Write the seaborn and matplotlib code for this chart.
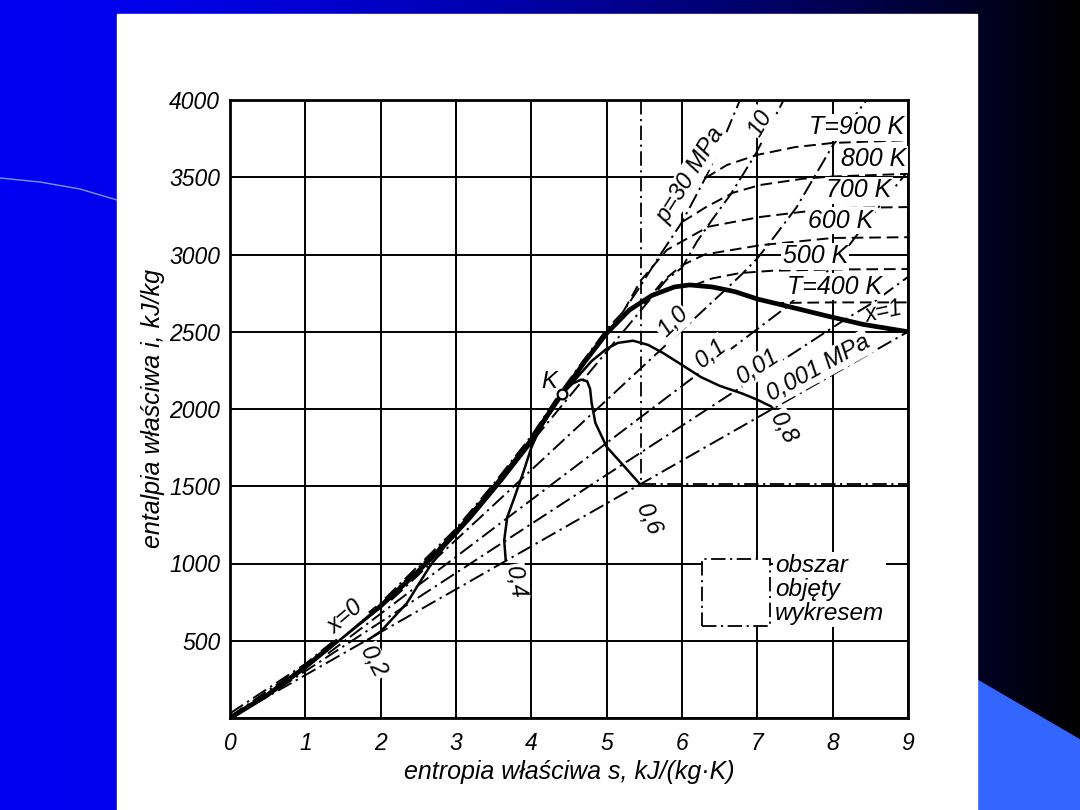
import numpy as np
import matplotlib
matplotlib.use('Agg')
import matplotlib.pyplot as plt
import seaborn as sns
from matplotlib.patches import Rectangle, Polygon

# wykres i-s (Molliera) dla wody
sns.set_style('white')
plt.rcParams['font.family'] = ['Liberation Sans', 'DejaVu Sans']
plt.rcParams['font.style'] = 'italic'
plt.rcParams['text.color'] = 'black'
plt.rcParams['axes.labelcolor'] = 'black'
plt.rcParams['xtick.color'] = 'black'
plt.rcParams['ytick.color'] = 'black'

# ==================== dane ====================
s_ticks = list(range(0, 10))
i_ticks = list(range(0, 4001, 500))

# linie nasycenia x=0 i x=1
s_x0 = [0, 0.5, 1.0, 1.5, 2.0, 2.5, 3.0, 3.5, 4.0, 4.2, 4.41]
i_x0 = [0, 150, 330, 530, 725, 950, 1200, 1490, 1800, 1950, 2100]
s_x1 = [4.41, 4.7, 5.0, 5.3, 5.6, 5.9, 6.1, 6.4, 6.7, 7.0, 7.4, 7.9, 8.4, 9.0]
i_x1 = [2100, 2300, 2490, 2640, 2735, 2790, 2803, 2790, 2760, 2712, 2665, 2605, 2548, 2500]
K_point = (4.41, 2100)

# linie stałego stopnia suchości
s_q02 = [1.83, 2.0, 2.35, 2.65, 2.85, 3.2, 3.6, 4.0, 4.41]
i_q02 = [505, 560, 745, 980, 1110, 1295, 1530, 1780, 2100]
s_q04 = [3.66, 3.64, 3.68, 3.77, 3.9, 4.0, 4.12, 4.3, 4.41]
i_q04 = [1020, 1150, 1300, 1420, 1600, 1750, 1880, 2010, 2100]
s_q06 = [4.41, 4.55, 4.66, 4.74, 4.78, 4.80, 4.85, 5.0, 5.24, 5.44]
i_q06 = [2100, 2165, 2190, 2180, 2130, 2040, 1910, 1755, 1625, 1515]
s_q08 = [4.41, 4.6, 4.8, 5.0, 5.15, 5.35, 5.55, 5.75, 6.0, 6.25, 6.5, 6.8, 7.0, 7.21]
i_q08 = [2100, 2200, 2310, 2390, 2428, 2442, 2415, 2362, 2285, 2207, 2150, 2100, 2060, 2010]

# izobary [MPa]
s_p0001 = [0.0, 9.0]
i_p0001 = [0, 2500]
s_p001 = [0.65, 8.15, 8.54, 9.0]
i_p001 = [192, 2575, 2690, 2855]
s_p01 = [1.30, 7.40, 7.6, 8.0, 8.5, 9.0]
i_p01 = [417, 2665, 2760, 2920, 3240, 3540]
s_p1 = [2.14, 6.59, 6.8, 7.0, 7.21, 7.52, 8.0, 8.45]
i_p1 = [763, 2778, 2875, 2975, 3105, 3305, 3705, 4000]
s_p10 = [0, 1.0, 2.0, 3.0, 3.36, 5.61, 5.8, 6.0, 6.2, 6.4, 6.64, 6.97, 7.35]
i_p10 = [10, 340, 735, 1210, 1408, 2730, 2840, 2915, 3085, 3225, 3385, 3644, 4000]
s_p30 = [0, 1.0, 2.0, 3.0, 3.5, 4.0, 4.41, 4.7, 5.0, 5.22, 5.44, 5.7, 6.0, 6.31, 6.55, 6.77]
i_p30 = [30, 350, 745, 1225, 1515, 1825, 2125, 2320, 2515, 2630, 2790, 2990, 3210, 3495, 3745, 4000]

# izotermy [K]
s_T400 = [7.2, 7.6, 8.0, 9.0]
i_T400 = [2685, 2688, 2690, 2690]
s_T500 = [6.15, 6.4, 6.77, 7.2, 8.0, 9.0]
i_T500 = [2800, 2845, 2880, 2895, 2903, 2906]
s_T600 = [5.5, 5.75, 6.0, 6.3, 7.04, 8.0, 9.0]
i_T600 = [2680, 2830, 2930, 3000, 3060, 3107, 3112]
s_T700 = [5.22, 5.45, 5.8, 6.35, 7.04, 8.0, 9.0]
i_T700 = [2630, 2830, 3030, 3180, 3243, 3300, 3307]
s_T800 = [6.0, 6.33, 6.68, 7.04, 7.6, 8.0, 9.0]
i_T800 = [3210, 3310, 3400, 3450, 3490, 3505, 3522]
s_T900 = [6.31, 6.6, 7.0, 7.5, 8.0, 9.0]
i_T900 = [3495, 3580, 3645, 3695, 3722, 3740]

# granica obszaru objętego wykresem
s_area = [5.46, 5.46, 9.0]
i_area = [4000, 1515, 1515]

# ==================== rysunek ====================
fig = plt.figure(figsize=(10.8, 8.1), dpi=100)

# tło slajdu
bg = fig.add_axes([0, 0, 1, 1])
t = np.linspace(0, 1, 256)
grad = np.zeros((2, 256, 3))
grad[:, :, 2] = 0.95 * (1 - t ** 1.6)
bg.imshow(grad, extent=[0, 1080, 810, 0], aspect='auto')
bg.add_patch(Polygon([(977, 680), (1080, 740), (1080, 810), (977, 810)], color='#3366ff'))
bg.plot([0, 40, 80, 117], [178, 182, 189, 200], color='#6f9bff', lw=1)
bg.add_patch(Rectangle((117, 14), 860, 796, color='white'))
bg.set_xlim(0, 1080)
bg.set_ylim(810, 0)
bg.axis('off')

ax = fig.add_axes([230 / 1080, 92 / 810, 678 / 1080, 618 / 810])
ax.set_facecolor('white')

DASHDOT = (0, (8, 2.5, 1.2, 2.5))
DASHED = (0, (6, 3))


def curve(s, i, lw=1.3, ls='-', z=3):
    sns.lineplot(x=s, y=i, sort=False, estimator=None, color='black',
                 linewidth=lw, linestyle=ls, ax=ax, zorder=z)


# izobary
for s, i in [(s_p0001, i_p0001), (s_p001, i_p001), (s_p01, i_p01),
             (s_p1, i_p1), (s_p10, i_p10), (s_p30, i_p30)]:
    curve(s, i, lw=1.4, ls=DASHDOT)
curve(s_area, i_area, lw=1.3, ls=DASHDOT)

# izotermy
for s, i in [(s_T400, i_T400), (s_T500, i_T500), (s_T600, i_T600),
             (s_T700, i_T700), (s_T800, i_T800), (s_T900, i_T900)]:
    curve(s, i, lw=1.4, ls=DASHED)

# stopień suchości
for s, i in [(s_q02, i_q02), (s_q04, i_q04), (s_q06, i_q06), (s_q08, i_q08)]:
    curve(s, i, lw=1.8, z=4)

# linie nasycenia
curve(s_x0, i_x0, lw=3.4, z=5)
curve(s_x1, i_x1, lw=3.4, z=5)
ax.plot(*K_point, 'o', ms=7, mfc='white', mec='black', mew=1.6, zorder=8)

# osie
ax.set_xlim(0, 9)
ax.set_ylim(0, 4000)
ax.set_xticks(s_ticks)
ax.set_yticks(i_ticks)
ax.set_yticklabels([''] + [str(v) for v in i_ticks[1:]])
ax.tick_params(length=0, labelsize=16.5, labelcolor='black')
ax.tick_params(axis='x', pad=10)
ax.tick_params(axis='y', pad=7)
ax.grid(True, color='black', lw=1.4)
ax.set_axisbelow(True)
for sp in ax.spines.values():
    sp.set_color('black')
    sp.set_linewidth(2.0)
ax.set_xlabel('entropia właściwa s, kJ/(kg·K)', fontsize=18, labelpad=4)
ax.set_ylabel('entalpia właściwa i, kJ/kg', fontsize=18, labelpad=3)

# opisy
WB = dict(fc='white', ec='none', pad=1.0)


def label(s, i, txt, rot=0, size=17, ha='center', box=True, z=7):
    ax.text(s, i, txt, rotation=rot, rotation_mode='anchor', ha=ha, va='center',
            fontsize=size, zorder=z, bbox=WB if box else None)


label(1.53, 654, 'x=0', 40)
label(8.68, 2628, 'x=1', 12, size=16.5, box=False, z=6)
label(4.23, 2175, 'K', 0)

label(6.11, 3515, 'p=30 MPa', 58)
label(7.04, 3851, '10', 60)
label(5.88, 2563, '1,0', 45)
label(6.39, 2362, '0,1', 38)
label(7.01, 2278, '0,01', 33)
label(7.81, 2265, '0,001 MPa', 29)

label(1.90, 362, '0,2', -62)
label(3.78, 880, '0,4', -80)
label(5.56, 1282, '0,6', -65)
label(7.34, 1877, '0,8', -60)

label(8.32, 3825, 'T=900 K', size=18)
label(8.55, 3618, '800 K', size=18)
label(8.35, 3417, '700 K', size=18)
label(8.11, 3217, '600 K', size=18)
label(7.77, 2990, '500 K', size=18)
label(8.03, 2790, 'T=400 K', size=18)

# legenda obszaru
ax.add_patch(Rectangle((6.27, 595), 0.9, 435, fc='white', ec='black',
                       lw=1.3, ls=DASHDOT, zorder=6))
ax.text(7.235, 830, 'obszar\nobjęty\nwykresem', ha='left', va='center',
        fontsize=17.5, linespacing=1.05, zorder=7, bbox=dict(fc='white', ec='none', pad=1.5))

plt.savefig('out.png', dpi=100)
